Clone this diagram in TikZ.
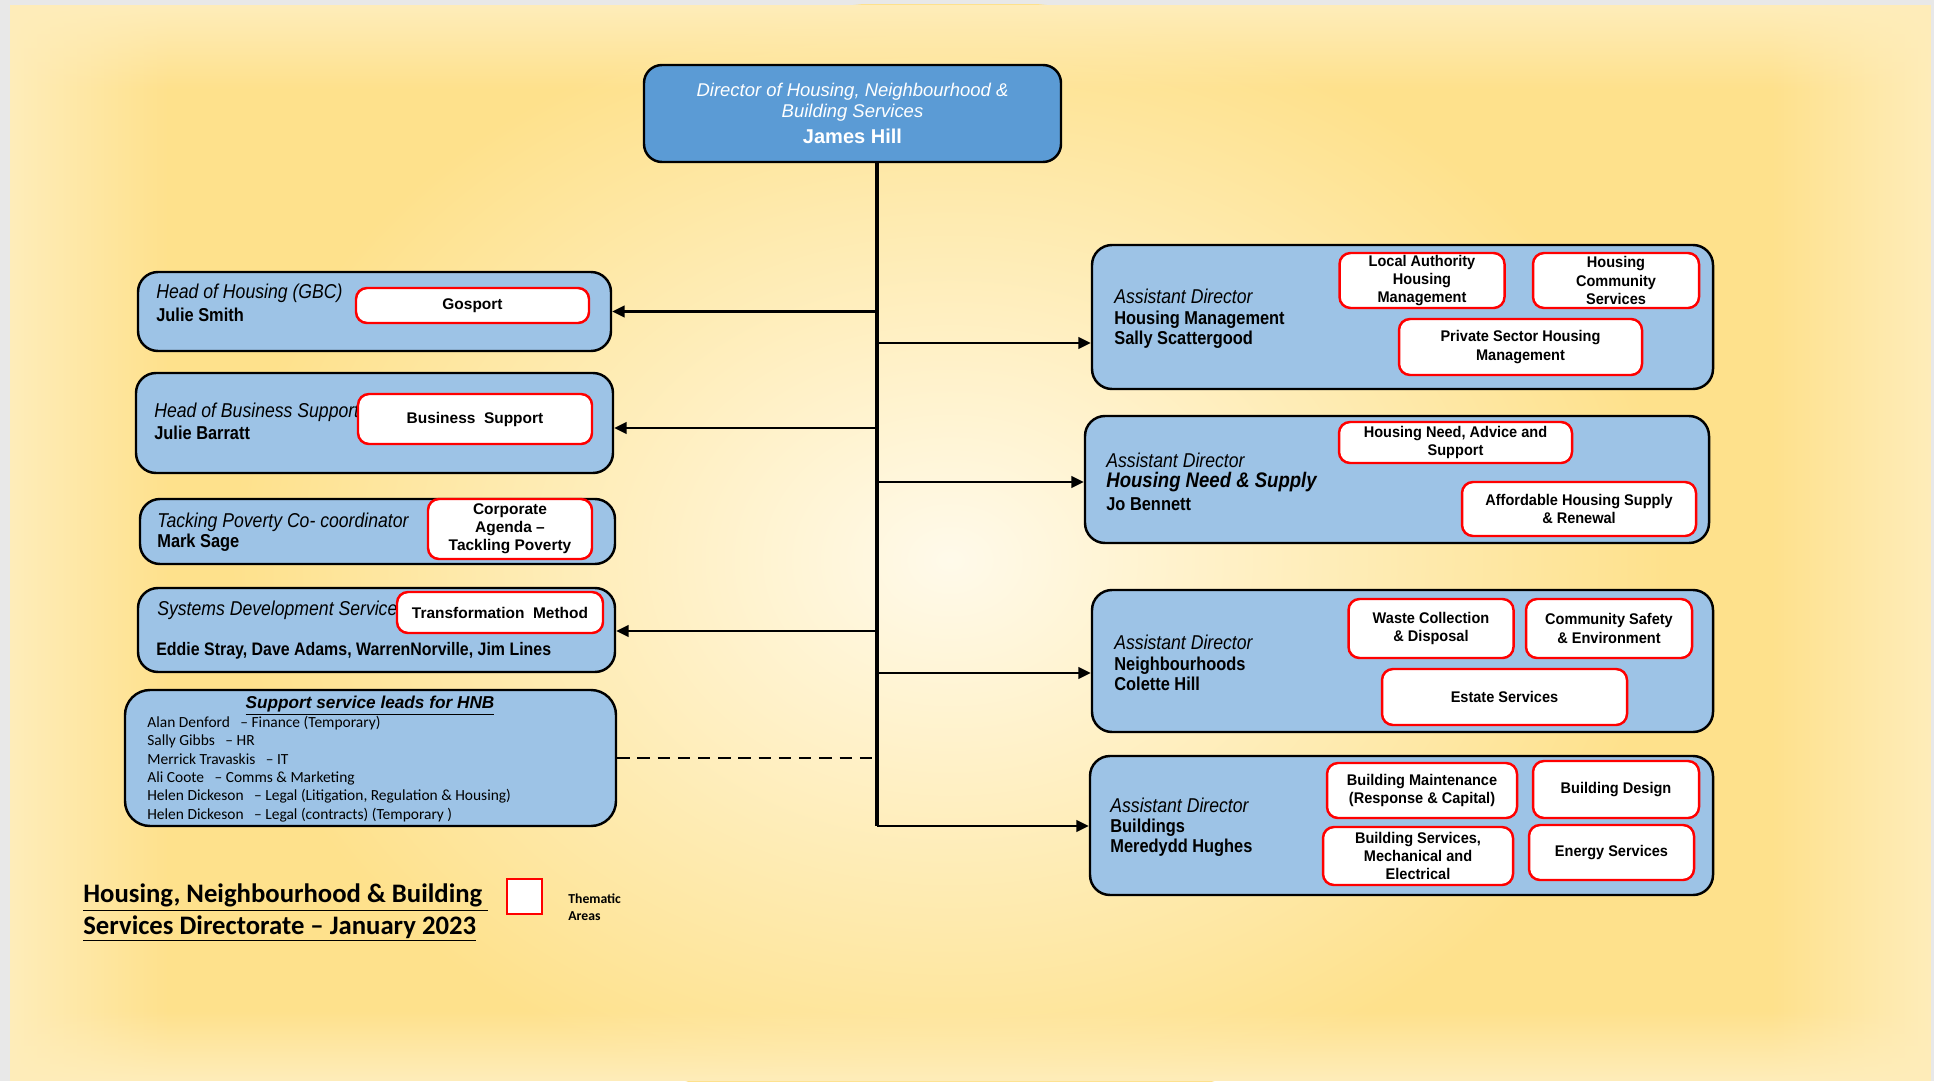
\documentclass[tikz,border=0pt]{standalone}
\usepackage{fontspec}
\setmainfont{Liberation Sans}
\newfontfamily\calibfont[Ligatures=TeX]{Carlito}
\newfontfamily\leftfont[FakeStretch=0.88]{Liberation Sans}
\newfontfamily\rightfont[FakeStretch=0.88]{Liberation Sans}
\newfontfamily\areafont[FakeStretch=0.94]{Liberation Sans}
\usetikzlibrary{positioning, calc, arrows.meta, fadings}

\definecolor{bgbase}{HTML}{FEE18C}
\definecolor{bgedge}{HTML}{FFEDBA}
\definecolor{bgglow}{HTML}{FFFAEA}
\definecolor{postblue}{HTML}{9DC3E6}
\definecolor{dirblue}{HTML}{5B9BD5}
\definecolor{areared}{HTML}{FF0000}

\begin{document}
\begin{tikzpicture}[x=0.2mm, y=-0.2mm,
  sz/.style 2 args={minimum width=#1*0.2mm, minimum height=#2*0.2mm},
  post/.style={draw, line width=1.4pt, fill=postblue, rounded corners=4mm, inner sep=0pt},
  area/.style={draw=areared, line width=1.4pt, fill=white, rounded corners=2.2mm, inner sep=0pt, align=center,
    font=\bfseries\fontsize{8.8}{10.2}\selectfont},
  rarea/.style={area, font=\areafont\bfseries\fontsize{8.8}{10.4}\selectfont},
  ltitle/.style={anchor=west, inner sep=0pt, font=\leftfont\itshape\fontsize{11.4}{13}\selectfont},
  lname/.style={anchor=west, inner sep=0pt, font=\leftfont\bfseries\fontsize{10.6}{12}\selectfont},
  rtitle/.style={anchor=west, inner sep=0pt, font=\rightfont\itshape\fontsize{11.4}{13}\selectfont},
  rname/.style={anchor=west, inner sep=0pt, align=left, font=\rightfont\bfseries\fontsize{10.6}{11.2}\selectfont},
  link/.style={-{Triangle[length=7pt,width=6.5pt]}, line width=1.3pt},
  trunk/.style={line width=2.8pt},
  dotlink/.style={line width=1.3pt, dash pattern=on 7pt off 4.5pt}]

  \useasboundingbox (0,0) rectangle (1934,1081);
  \fill[black!9] (0,0) rectangle (1934,1081);
  \fill[bgbase] (10,5) rectangle (1931,1081);
  \begin{scope}
    \clip (10,5) rectangle (1931,1081);
    \shade[inner color=bgglow, outer color=bgbase] (950,560) ellipse [x radius=720, y radius=560];
    \fill[bgedge, path fading=east] (10,5) rectangle (170,1081);
    \fill[bgedge, path fading=west] (1770,5) rectangle (1931,1081);
    \fill[bgedge, path fading=south] (10,5) rectangle (1931,90);
    \fill[bgedge, path fading=north] (10,1010) rectangle (1931,1081);
  \end{scope}

  \node[post, fill=dirblue, sz={417}{97}, rounded corners=3.6mm, text=white, align=center,
    font=\itshape\fontsize{10.5}{12}\selectfont] (dir) at (852.5,113.5)
    {Director of Housing, Neighbourhood \&\\Building Services\\[3pt]
     {\upshape\bfseries\fontsize{11.4}{13}\selectfont James Hill}};

  \coordinate (tbot) at (877,826);
  \draw[trunk] (dir.south -| tbot) -- (tbot);

  % left side
  \node[post, sz={473}{79}] (hoh) at (374.5,311.5) {};
  \node[ltitle] (hohtitle) at (156,293) {Head of Housing (GBC)};
  \node[lname] (hohname) at (156,315) {Julie Smith};
  \node[area, sz={233}{35}] (gosport) at (472.5,305.5) {Gosport};

  \node[post, sz={477}{100}] (hbs) at (374.5,423) {};
  \node[ltitle] (hbstitle) at (154,412) {Head of Business Support};
  \node[lname] (hbsname) at (154,433) {Julie Barratt};
  \node[area, sz={234}{50}] (bsupport) at (475,419) {Business\ \ Support};

  \node[post, sz={475}{65}] (tpc) at (377.5,531.5) {};
  \node[ltitle] (tpctitle) at (157,522) {Tacking Poverty Co- coordinator};
  \node[lname] (tpcname) at (157,543) {Mark Sage};
  \node[area, sz={164}{60}] (corp) at (510,529) {Corporate\\Agenda –\\Tackling Poverty};

  \node[post, sz={477}{84}] (sds) at (376.5,630) {};
  \node[ltitle] (sdstitle) at (157,610) {Systems Development Service};
  \node[lname, font=\leftfont\bfseries\fontsize{10.3}{12}\selectfont] (sdsname) at (156,651)
    {Eddie Stray, Dave Adams, WarrenNorville, Jim Lines};
  \node[area, sz={206}{41}] (transf) at (500,612.5) {Transformation\ \ Method};

  \node[post, sz={491}{136}, rounded corners=5mm] (support) at (370.5,758) {};
  \node[inner sep=0pt, font=\bfseries\itshape\fontsize{9.8}{11}\selectfont] (suptitle) at (370,706)
    {\underline{Support service leads for HNB}};
  \node[anchor=west, inner sep=0pt, align=left, font=\calibfont\fontsize{8.8}{10.4}\selectfont] (suplist) at (147,769)
    {Alan Denford \ \ – Finance (Temporary)\\
     Sally Gibbs \ \ – HR\\
     Merrick Travaskis \ \ – IT\\
     Ali Coote \ \ – Comms \& Marketing\\
     Helen Dickeson \ \ – Legal (Litigation, Regulation \& Housing)\\
     Helen Dickeson \ \ – Legal (contracts) (Temporary )};

  % right side
  \node[post, sz={621}{144}] (hm) at (1402.5,317) {};
  \node[rtitle] (hmtitle) at (1114,296) {Assistant Director};
  \node[rname] (hmname) at (1114,329.5) {Housing Management\\Sally Scattergood};
  \node[rarea, sz={165}{55}] (la) at (1422,280.5) {Local Authority\\Housing\\Management};
  \node[rarea, sz={166}{55}] (hcs) at (1616,280.5) {Housing\\Community\\Services};
  \node[rarea, sz={243}{56}] (pshm) at (1520.5,347) {Private Sector Housing\\Management};

  \node[post, sz={624}{127}] (hns) at (1397,479.5) {};
  \node[rtitle] (hnstitle) at (1106,460) {Assistant Director};
  \node[rname, font=\rightfont\bfseries\itshape\fontsize{12}{13}\selectfont] (hnsarea) at (1106,482) {Housing Need \& Supply};
  \node[rname] (hnsname) at (1106,504) {Jo Bennett};
  \node[rarea, sz={233}{41}] (hnas) at (1455.5,442.5) {Housing Need, Advice and\\Support};
  \node[rarea, sz={234}{54}] (ahs) at (1579,509) {Affordable Housing Supply\\\& Renewal};

  \node[post, sz={621}{142}] (nb) at (1402.5,661) {};
  \node[rtitle] (nbtitle) at (1114,642) {Assistant Director};
  \node[rname] (nbname) at (1114,674) {Neighbourhoods\\Colette Hill};
  \node[rarea, sz={165}{59}] (waste) at (1431,628.5) {Waste Collection\\\& Disposal};
  \node[rarea, sz={166}{59}] (csafe) at (1609,628.5) {Community Safety\\\& Environment};
  \node[rarea, sz={245}{56}] (estate) at (1504.5,697) {Estate Services};

  \node[post, sz={623}{139}] (bld) at (1401.5,825.5) {};
  \node[rtitle] (bldtitle) at (1110,805) {Assistant Director};
  \node[rname] (bldname) at (1110,838) {Buildings\\Meredydd Hughes};
  \node[rarea, sz={190}{55}] (bm) at (1422,790.5) {Building Maintenance\\(Response \& Capital)};
  \node[rarea, sz={166}{57}] (bdes) at (1616,789.5) {Building Design};
  \node[rarea, sz={190}{58}] (bsme) at (1418,856) {Building Services,\\Mechanical and\\Electrical};
  \node[rarea, sz={165}{55}] (energy) at (1611.5,852.5) {Energy Services};

  % legend
  \node[anchor=west, inner sep=0pt, align=left, font=\calibfont\bfseries\fontsize{15.2}{17.8}\selectfont] (legtitle) at (83,913)
    {\underline{Housing, Neighbourhood \& Building\ }\\\underline{Services Directorate – January 2023}};
  \node[area, rounded corners=0pt, sz={35}{35}] (legbox) at (524.5,896.5) {};
  \node[anchor=west, inner sep=0pt, align=left, font=\calibfont\bfseries\fontsize{7.8}{9.6}\selectfont] (legtext) at (568,907.5)
    {Thematic\\Areas};

  % connectors
  \coordinate (t1) at (877,311.5);
  \coordinate (t2) at (877,428);
  \coordinate (t3) at (877,631);
  \coordinate (t4) at (877,343);
  \coordinate (t5) at (877,482);
  \coordinate (t6) at (877,673);
  \draw[link] (t1) -- (t1 -| hoh.east);
  \draw[link] (t2) -- (t2 -| hbs.east);
  \draw[link] (t3) -- (t3 -| sds.east);
  \draw[link] (t4) -- (t4 -| hm.west);
  \draw[link] (t5) -- (t5 -| hns.west);
  \draw[link] (t6) -- (t6 -| nb.west);
  \draw[link] (tbot) -- (tbot -| bld.west);
  \draw[dotlink] (support.east) -- (support.east -| tbot);
\end{tikzpicture}
\end{document}
